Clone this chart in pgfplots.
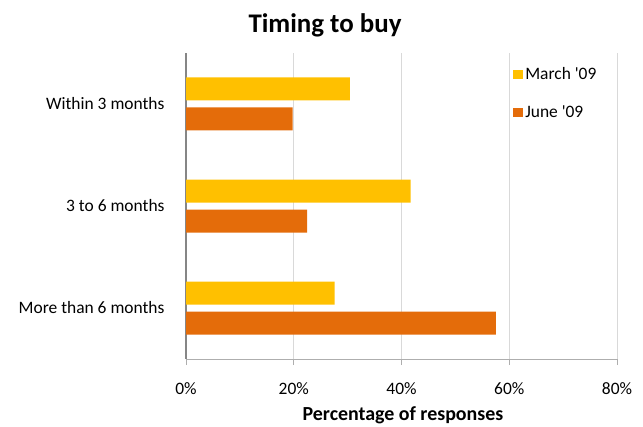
\documentclass[border=0pt]{standalone}
\usepackage{pgfplots}
\pgfplotsset{compat=1.18}
\usepackage{fontspec}
\setmainfont{Carlito}[Ligatures=TeXOff]
\definecolor{march}{HTML}{FFC000}
\definecolor{june}{HTML}{E46C0A}
\definecolor{gridc}{HTML}{D9D9D9}
\definecolor{axc}{HTML}{868686}
\begin{document}
\begin{tikzpicture}[x=1bp,y=1bp]
\path[use as bounding box] (0,0) rectangle (643,426);
\begin{axis}[
  at={(186bp,67bp)}, anchor=south west,
  scale only axis, width=431bp, height=306bp,
  xbar, bar width=23bp,
  xmin=0, xmax=80, ymin=-0.5, ymax=2.5,
  xtick={0,20,40,60,80},
  xticklabels={0\%,20\%,40\%,60\%,80\%},
  ytick={0,1,2},
  yticklabels={More than 6 months,3 to 6 months,Within 3 months},
  axis x line=bottom, axis y line=left,
  x axis line style={-, draw=gridc!80!black, line width=1bp},
  y axis line style={-, draw=axc, line width=2bp},
  xmajorgrids, grid style={draw=gridc, line width=1bp},
  tick align=outside, major tick length=6bp,
  xtick style={draw=gridc!80!black, line width=1bp},
  ytick style={draw=none},
  xticklabel style={font=\fontsize{17.5}{20}\selectfont, yshift=-14bp},
  yticklabel style={font=\fontsize{17.5}{20}\selectfont, xshift=-12bp},
  /pgf/number format/assume math mode=true,
  legend style={at={(0.752,0.993)}, anchor=north west, draw=none, fill=white,
    font=\fontsize{17.5}{20}\selectfont, row sep=21bp, inner xsep=3bp, inner ysep=10bp,
    legend cell align=left},
  legend image code/.code={\fill[#1] (0bp,-4.5bp) rectangle (10bp,4.5bp);},
]
\addplot[fill=march, draw=none, bar shift=15bp] coordinates {(27.6,0) (41.7,1) (30.4,2)};
\addplot[fill=june, draw=none, bar shift=-15bp] coordinates {(57.5,0) (22.5,1) (19.8,2)};
\legend{March '09, June '09}
\end{axis}
\node[font=\bfseries\fontsize{27}{30}\selectfont] at (325,401) {Timing to buy};
\node[font=\bfseries\fontsize{20}{22}\selectfont] at (403,11) {Percentage of responses};
\end{tikzpicture}
\end{document}
